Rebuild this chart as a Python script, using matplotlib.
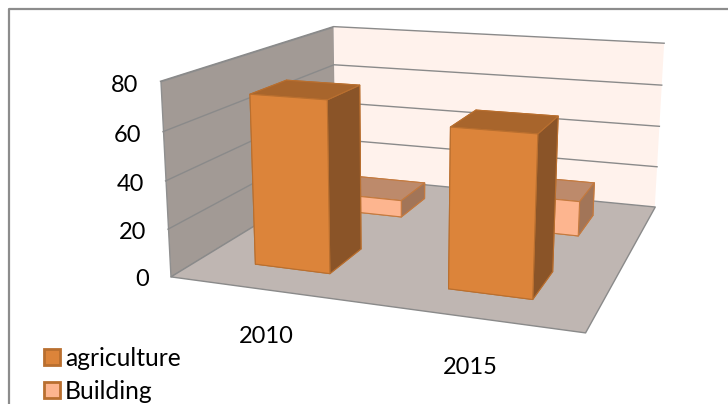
import numpy as np
import matplotlib
matplotlib.use("Agg")
import matplotlib.pyplot as plt
from matplotlib.lines import Line2D
from matplotlib.patches import Patch
from mpl_toolkits.mplot3d import proj3d
from mpl_toolkits.mplot3d.art3d import Poly3DCollection

plt.rcParams["font.family"] = ["Lato", "DejaVu Sans"]

years = ["2010", "2015"]
series = ["agriculture", "Building"]
agriculture = [72, 65]
building = [8, 16]
ticks = [0, 20, 40, 60, 80]

W, H = 728, 404
fig = plt.figure(figsize=(W / 100, H / 100), dpi=100)
# mplot3d forces a square box, so make it square and let the figure crop it
ax = fig.add_axes([0, -(W - H) / 2 / H, 1, W / H], projection="3d", computed_zorder=False)
ax.set_axis_off()
ax.apply_aspect()

# camera fitted to where the chart cage sits in the picture
cage_3d = [(0, 0, 0), (2, 0, 0), (2, 1, 0), (0, 1, 0), (0, 0, 80), (0, 1, 80), (2, 1, 80)]
cage_px = [(171, 277), (585, 332), (655, 207), (335, 175), (160, 81), (334, 27), (664, 43)]
view = ax.transData.inverted().transform([(px, H - py) for px, py in cage_px])

A, b = [], []
for (x, y, z), (u, v) in zip(cage_3d, view):
    A.append([x, y, z / 80, 1, 0, 0, 0, 0, -u * x, -u * y, -u * z / 80])
    A.append([0, 0, 0, 0, x, y, z / 80, 1, -v * x, -v * y, -v * z / 80])
    b += [u, v]
p = np.linalg.lstsq(np.array(A), np.array(b), rcond=None)[0]
M = np.array([
    [p[0], p[1], p[2] / 80, p[3]],
    [p[4], p[5], p[6] / 80, p[7]],
    [0, 0, 0, -1],
    [p[8], p[9], p[10] / 80, 1],
])
ax.get_proj = lambda: M


def label(x, y, z, s, ha):
    u, v, _ = proj3d.proj_transform(x, y, z, M)
    ax.text2D(u, v, s, transform=ax.transData, ha=ha, va="center", fontsize=17, color="black", zorder=5)


# walls and floor
left_wall = [(0, 0, 0), (0, 1, 0), (0, 1, 80), (0, 0, 80)]
back_wall = [(0, 1, 0), (2, 1, 0), (2, 1, 80), (0, 1, 80)]
floor = [(0, 0, 0), (2, 0, 0), (2, 1, 0), (0, 1, 0)]
ax.add_collection3d(Poly3DCollection([left_wall], facecolors="#a29a95", edgecolors="#8f8f8f", linewidths=1, zorder=1))
ax.add_collection3d(Poly3DCollection([back_wall], facecolors="#fff2ec", edgecolors="none", zorder=1))
ax.add_collection3d(Poly3DCollection([floor], facecolors="#bfb6b2", edgecolors="#8a8a8a", linewidths=1, zorder=1))

for t in ticks[1:]:
    ax.plot([0, 0, 2], [0, 1, 1], [t, t, t], color="#8a8a8a", lw=1, zorder=2)

# bars, Excel default gaps: 150% wide and deep
xs = np.arange(len(years)) + 0.3
agri_faces = ["#dc843a", "#a8652c", "#dc843a", "#dc843a", "#8a5428", "#8a5428"]
bld_faces = ["#fdb58f", "#bd8a6b", "#fdb58f", "#fdb58f", "#a27558", "#a27558"]
ax.bar3d(xs, [0.65] * 2, [0, 0], 0.4, 0.2, building, color=bld_faces * 2, shade=False,
         edgecolor="#c47a3f", linewidth=0.8, zorder=3)
ax.bar3d(xs, [0.15] * 2, [0, 0], 0.4, 0.2, agriculture, color=agri_faces * 2, shade=False,
         edgecolor="#b96f2f", linewidth=0.8, zorder=4)

for t in ticks:
    label(-0.12, 0, t - 2.5, str(t), "right")
for i, year in enumerate(years):
    label(i + 0.5, 0, -20, year, "center")

handles = [
    Patch(facecolor="#dc843a", edgecolor="#b96f2f", lw=2),
    Patch(facecolor="#fdb58f", edgecolor="#b96f2f", lw=2),
]
fig.legend(handles, series, loc="lower left", bbox_to_anchor=(42 / W, -1 / H), frameon=False, fontsize=17.7,
           handlelength=0.62, handleheight=0.62, handletextpad=0.22, labelspacing=0.4,
           borderpad=0.1, borderaxespad=0)

# chart frame, only top and left show in the crop
fig.add_artist(Line2D([8.5 / W, 8.5 / W, 1], [0, 1 - 8.5 / H, 1 - 8.5 / H], color="#8c8c8c", lw=1.6))

plt.savefig("out.png", dpi=100)
